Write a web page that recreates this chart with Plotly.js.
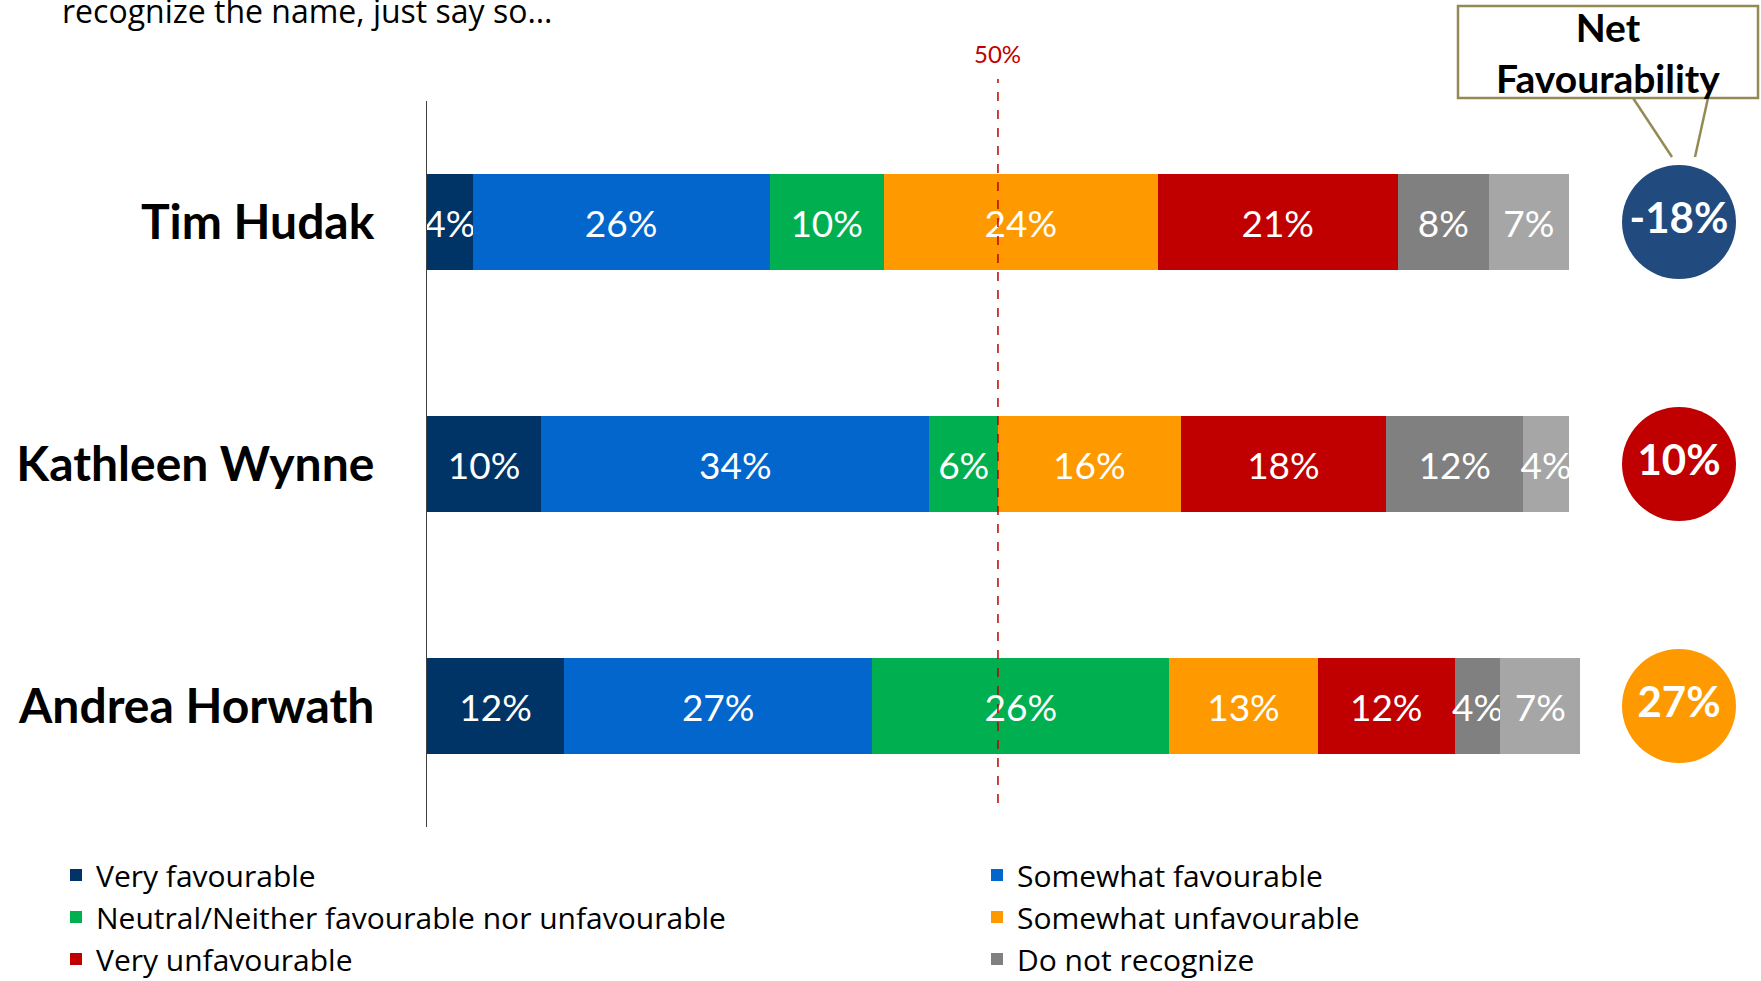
<!DOCTYPE html>
<html><head><meta charset="utf-8">
<script src="https://cdn.plot.ly/plotly-3.0.1.min.js"></script>
<style>html,body{margin:0;padding:0;background:#fff;overflow:hidden}#chart{width:1761px;height:981px}</style>
</head><body><div id="chart"></div>
<script>
// ---- data ----
const candidates = ['Tim Hudak', 'Kathleen Wynne', 'Andrea Horwath'];
const seriesNames = ['Very favourable', 'Somewhat favourable', 'Neutral/Neither favourable nor unfavourable',
  'Somewhat unfavourable', 'Very unfavourable', 'Do not recognize', "Don't know"];
const veryFavourable = [4, 10, 12];
const somewhatFavourable = [26, 34, 27];
const neutral = [10, 6, 26];
const somewhatUnfavourable = [24, 16, 13];
const veryUnfavourable = [21, 18, 12];
const doNotRecognize = [8, 12, 4];
const dontKnow = [7, 4, 7];
const netFavourability = [-18, 10, 27];
const referenceLine = 50;

// ---- style ----
const FONT = 'Lato, "Open Sans", sans-serif';
const FONT2 = '"Open Sans", Lato, sans-serif';
const seriesColors = ['#003366', '#0366CC', '#00B050', '#FF9900', '#C00000', '#808080', '#A6A6A6'];
const netColors = ['#214A7E', '#C00000', '#FF9900'];
const seriesValues = [veryFavourable, somewhatFavourable, neutral, somewhatUnfavourable, veryUnfavourable, doNotRecognize, dontKnow];

const L = 427, T = 101, B = 827, W = 1761, H = 981;
const PW = W - L, PH = B - T;
const px = x => (x - L) / PW;
const py = y => (B - y) / PH;

const traces = seriesValues.map((vals, i) => ({
  type: 'bar', orientation: 'h',
  name: seriesNames[i],
  x: vals, y: candidates,
  marker: {color: seriesColors[i], line: {width: 0}},
  texttemplate: '%{x}%',
  textposition: 'inside', insidetextanchor: 'middle', constraintext: 'none', textangle: 0,
  textfont: {family: FONT, size: 37, color: '#ffffff'},
  legend: (i % 2 === 0) ? 'legend' : 'legend2',
  showlegend: i < 6,
  hoverinfo: 'name+x'
}));

traces.push({
  type: 'scatter', mode: 'markers+text',
  x: candidates.map(() => 'Net Favourability'), y: candidates,
  xaxis: 'x2', yaxis: 'y',
  marker: {size: 114, color: netColors, line: {width: 0}},
  text: netFavourability.map(v => v + '%'),
  textposition: 'middle center',
  textfont: {family: FONT, size: 42, color: '#ffffff', weight: 'bold'},
  cliponaxis: false, showlegend: false, hoverinfo: 'skip'
});

const olive = '#948A54';
const legendCommon = {xref: 'container', yref: 'container', xanchor: 'left', yanchor: 'top',
  orientation: 'v', traceorder: 'normal', bgcolor: 'rgba(0,0,0,0)',
  font: {family: FONT2, size: 30, color: '#000000'}};
const layout = {
  width: W, height: H,
  margin: {l: L, r: 0, t: T, b: H - B, pad: 0, autoexpand: false},
  paper_bgcolor: '#ffffff', plot_bgcolor: 'rgba(0,0,0,0)',
  font: {family: FONT, color: '#000000'},
  barmode: 'stack', bargap: 0.6,
  xaxis: {domain: [0, 1199 / PW], range: [0, 105], visible: false, fixedrange: true},
  xaxis2: {domain: [px(1597), 1], type: 'category', anchor: 'y', visible: false, fixedrange: true},
  yaxis: {type: 'category', categoryarray: candidates, range: [2.5, -0.5], autorange: false, automargin: false,
    showline: true, linecolor: '#404040', linewidth: 1, showgrid: false, zeroline: false,
    ticks: '', ticklabelstandoff: 42,
    tickfont: {family: FONT, size: 48, color: '#000000', weight: 'bold'}, fixedrange: true},
  legend: Object.assign({x: 56 / W, y: 1 - 849 / H}, legendCommon),
  legend2: Object.assign({x: 977 / W, y: 1 - 849 / H}, legendCommon),
  shapes: [
    {type: 'line', xref: 'x', yref: 'paper', x0: referenceLine, x1: referenceLine, y0: py(803), y1: py(79),
      line: {color: '#C00000', width: 1.5, dash: 'dash'}, layer: 'above'},
    {type: 'line', xref: 'paper', yref: 'paper', x0: px(1633), y0: py(98), x1: px(1672), y1: py(157),
      line: {color: olive, width: 2.5}},
    {type: 'line', xref: 'paper', yref: 'paper', x0: px(1708), y0: py(98), x1: px(1695), y1: py(157),
      line: {color: olive, width: 2.5}},
    {type: 'rect', xref: 'paper', yref: 'paper', x0: px(1458), x1: px(1758), y0: py(98), y1: py(6),
      line: {color: olive, width: 2.5}, fillcolor: 'rgba(255,255,255,0)'}
  ],
  annotations: [
    {xref: 'x', yref: 'paper', x: referenceLine, y: py(54), text: referenceLine + '%', showarrow: false,
      font: {family: FONT, size: 24, color: '#C00000'}, xanchor: 'center', yanchor: 'middle'},
    {xref: 'paper', yref: 'paper', x: px(1608), y: py(52), text: '<b>Net</b><br><b>Favourability</b>', showarrow: false,
      font: {family: FONT, size: 39, color: '#000000'}, xanchor: 'center', yanchor: 'middle', align: 'center'},
    {xref: 'paper', yref: 'paper', x: px(60), y: py(10), text: 'recognize the name, just say so…', showarrow: false,
      font: {family: FONT2, size: 32, color: '#000000'}, xanchor: 'left', yanchor: 'middle'}
  ],
  hovermode: false
};

Plotly.newPlot('chart', traces, layout, {displayModeBar: false, staticPlot: true});
</script>
</body></html>
